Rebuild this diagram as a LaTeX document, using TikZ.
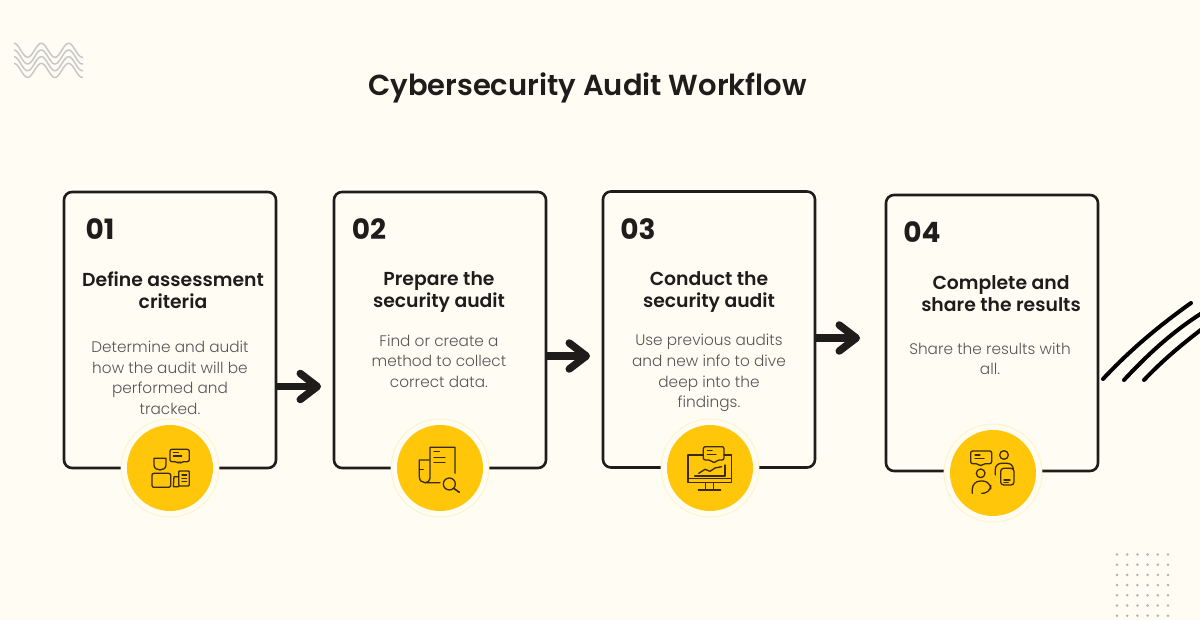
\documentclass[tikz,border=0pt]{standalone}
\usepackage{fontspec}
\setmainfont{Poppins Light}
\newfontfamily\semifont{Poppins SemiBold}
\newfontfamily\boldfont{Poppins}[UprightFont=*,BoldFont=* Bold]
\usepackage{xcolor}
\usetikzlibrary{arrows.meta}
\definecolor{paper}{HTML}{FFFDF3}
\definecolor{ink}{HTML}{1F1C1C}
\definecolor{gold}{HTML}{FFC60A}
\definecolor{iconink}{HTML}{3B2A10}

\begin{document}
\begin{tikzpicture}[
    x=1pt, y=-1pt,
    card/.style={rectangle, draw=ink, line width=2.6pt, rounded corners=8pt, fill=paper, minimum width=212pt, minimum height=276pt, inner sep=0pt, outer sep=0pt},
    halo/.style={circle, draw=gold!25, line width=0.8pt, fill=paper, minimum size=98pt, inner sep=0pt},
    badge/.style={circle, fill=gold, minimum size=86pt, inner sep=0pt},
    num/.style={font=\boldfont\bfseries\fontsize{28}{30}\selectfont, text=ink},
    head/.style={font=\semifont\fontsize{18.8}{22}\selectfont, text=ink, align=center},
    body/.style={font=\fontsize{15.3}{20.6}\selectfont, text=ink!75, align=center},
    flow/.style={-{Straight Barb[length=17pt, width=26pt, line width=7.5pt, round]}, line width=7.5pt, color=ink},
    icon/.style={draw=iconink, line width=1.3pt, line cap=round, line join=round},
    swoosh/.style={draw=black, line width=4pt, line cap=round},
    ripple/.style={draw=black!22, line width=1.5pt}
]

% Page
\fill[paper] (0,0) rectangle (1200,620);
\useasboundingbox (0,0) rectangle (1200,620);

% Title
\node[font=\semifont\fontsize{29}{34}\selectfont, text=ink] (title) at (587.5,88) {Cybersecurity Audit Workflow};

% Ripples (top left)
\foreach \dy in {0,6.7,13.4,20.1} {
  \draw[ripple, smooth] plot[domain=0:69, samples=70] ({14+\x}, {50.3+\dy-7*cos(\x/27.3*360)});
}

% Dots (bottom right)
\foreach \i in {0,...,5} {
  \foreach \j in {0,...,6} {
    \fill[black!30] ({1117+10.2*\i}, {554.5+10.2*\j}) circle (1.4);
  }
}

% Swooshes (right)
\draw[swoosh] (1103,379) .. controls (1130,350) and (1160,325) .. (1191,303);
\draw[swoosh] (1124,380) .. controls (1150,352) and (1175,330) .. (1202,313);
\draw[swoosh] (1144,380) .. controls (1165,358) and (1185,342) .. (1202,329);

% Cards
\node[card] (card1) at (170,330) {};
\node[card] (card2) at (440,330) {};
\node[card] (card3) at (709,329.5) {};
\node[card] (card4) at (992,333) {};

% Step 1
\node[num] (num1) at (100,229) {01};
\node[head] (head1) at (173,290) {Define assessment\\criteria};
\node[body] (body1) at (170,378) {Determine and audit\\how the audit will be\\performed and\\tracked.};

% Step 2
\node[num] (num2) at (369,229) {02};
\node[head] (head2) at (439,292) {Prepare the\\security audit};
\node[body] (body2) at (439,361) {Find or create a\\method to collect\\correct data.};

% Step 3
\node[num] (num3) at (638,229) {03};
\node[head] (head3) at (709,292) {Conduct the\\security audit};
\node[body] (body3) at (709,373) {Use previous audits\\and new info to dive\\deep into the\\findings.};

% Step 4
\node[num] (num4) at (922,232) {04};
\node[head] (head4) at (1001,294) {Complete and\\share the results};
\node[body] (body4) at (990,359) {Share the results with\\all.};

% Arrows between the cards
\coordinate (tip1) at (321,386.5);
\coordinate (tip2) at (590,356);
\coordinate (tip3) at (860,338);
\draw[flow] (card1.east |- tip1) -- (tip1);
\draw[flow] (card2.east |- tip2) -- (tip2);
\draw[flow] (card3.east |- tip3) -- (tip3);

% Badges
\node[halo] (halo1) at (170,468) {};
\node[badge] (badge1) at (170,468) {};
\node[halo] (halo2) at (440,468) {};
\node[badge] (badge2) at (440,468) {};
\node[halo] (halo3) at (710,468) {};
\node[badge] (badge3) at (710,468) {};
\node[halo] (halo4) at (993,473) {};
\node[badge] (badge4) at (993,473) {};

% Icon 1: person, bubble and phone
\begin{scope}[shift={(120,410)}, x=0.3333pt, y=-0.3333pt]
\draw[icon] (102,145) -- (138,145) -- (138,165) .. controls (138,185) and (102,185) .. (102,165) -- cycle;
\draw[icon, rounded corners=2pt] (96,190) rectangle (152,232);
\draw[icon, rounded corners=2pt] (150,118) -- (208,118) -- (208,155) -- (185,155) -- (178,161) -- (171,155) -- (150,155) -- cycle;
\draw[icon] (160,128) -- (175,128) (160,138) -- (185,138);
\draw[icon, rounded corners=1pt] (176,183) rectangle (208,228);
\draw[icon] (176,200) -- (162,200) -- (160,230) -- (176,230);
\draw[icon] (186,195) -- (200,195) (186,205) -- (200,205) (186,215) -- (200,215);
\end{scope}

% Icon 2: document and magnifier
\begin{scope}[shift={(390,410)}, x=0.3333pt, y=-0.3333pt]
\draw[icon] (195,190) -- (195,112) -- (120,112) -- (120,205) .. controls (120,214) and (112,218) .. (105,218);
\draw[icon] (118,150) -- (88,150) -- (88,200) .. controls (88,212) and (96,218) .. (105,218) -- (150,218);
\draw[icon] (88,178) -- (100,178);
\draw[icon] (132,125) -- (148,125) (132,142) -- (165,142) (132,157) -- (165,157);
\draw[icon] (178,222) circle (18);
\draw[icon, line width=1.6pt] (191,235) -- (208,247);
\end{scope}

% Icon 3: monitor, bubble and chart
\begin{scope}[shift={(660,410)}, x=0.3333pt, y=-0.3333pt]
\draw[icon] (130,135) -- (84,135) -- (84,218) -- (214,218) -- (214,135) -- (192,135);
\draw[icon] (84,205) -- (214,205);
\draw[icon, rounded corners=2pt] (130,110) -- (192,110) -- (192,150) -- (172,150) -- (162,160) -- (152,150) -- (130,150) -- cycle;
\draw[icon] (142,122) -- (156,122) (142,133) -- (168,133);
\draw[icon] (116,190) -- (135,178) -- (150,184) -- (165,174) -- (185,170);
\draw[icon] (104,198) -- (195,198) -- (195,165);
\draw[icon] (137,218) -- (137,240) (160,218) -- (160,240) (115,240) -- (182,240);
\end{scope}

% Icon 4: two people sharing
\begin{scope}[shift={(940,415)}, x=0.3333pt, y=-0.3333pt]
\draw[icon, rounded corners=2pt] (92,108) -- (155,108) -- (155,146) -- (130,146) -- (122,154) -- (114,146) -- (92,146) -- cycle;
\draw[icon] (105,120) -- (120,120) (105,131) -- (132,131);
\draw[icon] (192,120) circle (13);
\draw[icon] (122,175) circle (13);
\draw[icon, rounded corners=6pt] (166,180) -- (166,145) -- (220,145) -- (220,162);
\draw[icon, rounded corners=3pt] (182,160) rectangle (222,210);
\draw[icon] (192,195) -- (210,195) (192,203) -- (205,203);
\draw[icon, rounded corners=8pt] (97,235) -- (97,198) -- (152,198) -- (152,235) -- (125,235);
\end{scope}

\end{tikzpicture}
\end{document}
